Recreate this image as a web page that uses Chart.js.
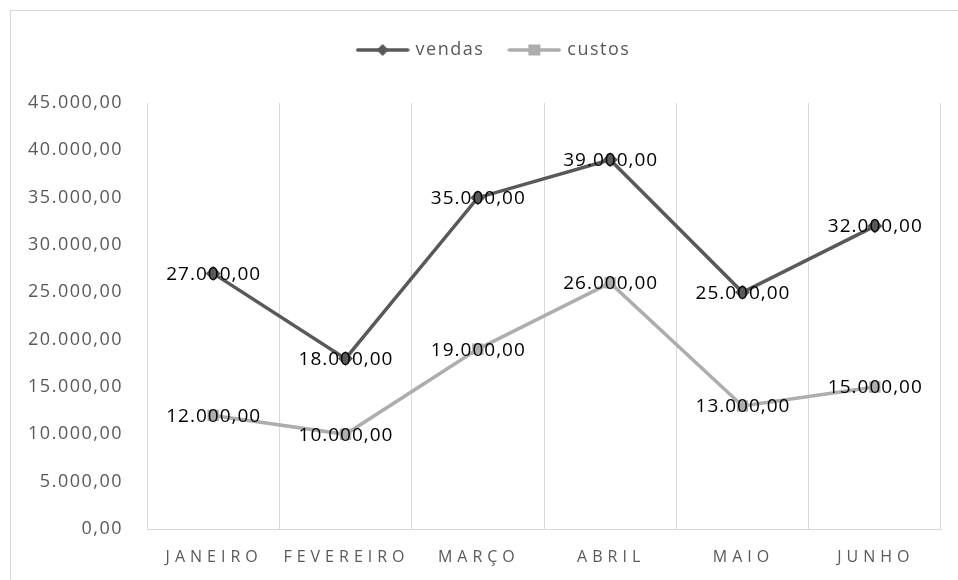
<!DOCTYPE html>
<html lang="pt">
<head>
  <meta charset="UTF-8">
  <title>Vendas e custos</title>
  <script src="https://cdn.jsdelivr.net/npm/chart.js"></script>
  <style>
    html, body { margin: 0; padding: 0; background: #fff; }
    #wrap { width: 958px; height: 580px; }
  </style>
</head>
<body>
  <div id="wrap"><canvas id="chart"></canvas></div>
  <script>
    const meses = ['JANEIRO', 'FEVEREIRO', 'MARÇO', 'ABRIL', 'MAIO', 'JUNHO'];
    const vendas = [27000, 18000, 35000, 39000, 25000, 32000];
    const custos = [12000, 10000, 19000, 26000, 13000, 15000];
    const yMin = 0, yMax = 45000, yStep = 5000;

    const escuro = '#595959';
    const claro = '#ADADAD';
    const fonte = '"Open Sans", "Noto Sans", sans-serif';

    const fmt = (v) => v.toLocaleString('pt-BR', { minimumFractionDigits: 2, maximumFractionDigits: 2 });

    // legend marker: short line with the point in the middle
    function legendIcon(color, shape) {
      const c = document.createElement('canvas');
      c.width = 54; c.height = 14;
      const g = c.getContext('2d');
      g.strokeStyle = color;
      g.lineWidth = 3.5;
      g.lineCap = 'round';
      g.beginPath(); g.moveTo(2, 7); g.lineTo(52, 7); g.stroke();
      g.fillStyle = color;
      if (shape === 'diamond') {
        g.beginPath(); g.moveTo(27, 1); g.lineTo(33, 7); g.lineTo(27, 13); g.lineTo(21, 7); g.closePath(); g.fill();
      } else {
        g.fillRect(21, 1.5, 12, 11);
      }
      return c;
    }

    const ajustes = {
      id: 'ajustes',
      beforeInit(chart) {
        const fit = chart.legend.fit;
        chart.legend.fit = function () {
          fit.bind(chart.legend)();
          this.height += 34;
        };
      },
      beforeUpdate(chart) { chart.ctx.letterSpacing = '1.5px'; },
      afterLayout(chart) {
        // centre the legend on the whole (cropped) chart frame
        chart.legend.left += 19;
        chart.legend.right += 19;
      },
      beforeDraw(chart) {
        const ctx = chart.ctx;
        ctx.letterSpacing = '1.5px';
        ctx.save();
        ctx.strokeStyle = '#D9D9D9';
        ctx.lineWidth = 1;
        ctx.strokeRect(10.5, 10.5, 1000, 1000);
        ctx.restore();
      }
    };

    const rotulos = {
      id: 'rotulos',
      afterDatasetsDraw(chart) {
        const ctx = chart.ctx;
        ctx.save();
        ctx.letterSpacing = '1px';
        ctx.font = '19px ' + fonte;
        ctx.fillStyle = '#000';
        ctx.textAlign = 'center';
        ctx.textBaseline = 'middle';
        chart.data.datasets.forEach((ds, i) => {
          chart.getDatasetMeta(i).data.forEach((pt, j) => {
            ctx.fillText(fmt(ds.data[j]), pt.x + 0.5, pt.y + 1);
          });
        });
        ctx.restore();
      },
      afterDraw(chart) {
        const ctx = chart.ctx;
        const xs = chart.scales.x;
        ctx.save();
        ctx.letterSpacing = '5px';
        ctx.font = '16px ' + fonte;
        ctx.fillStyle = escuro;
        ctx.textAlign = 'center';
        ctx.textBaseline = 'middle';
        meses.forEach((m, i) => {
          ctx.fillText(m, xs.getPixelForValue(i) + 1, 557);
        });
        ctx.restore();
      }
    };

    new Chart(document.getElementById('chart'), {
      type: 'line',
      data: {
        labels: meses,
        datasets: [
          {
            label: 'vendas',
            data: vendas,
            borderColor: escuro,
            backgroundColor: escuro,
            borderWidth: 3.5,
            pointStyle: 'rectRot',
            pointRadius: 7.5,
            pointBorderWidth: 0,
            tension: 0
          },
          {
            label: 'custos',
            data: custos,
            borderColor: claro,
            backgroundColor: claro,
            borderWidth: 3.5,
            pointStyle: 'rect',
            pointRadius: 8,
            pointBorderWidth: 0,
            tension: 0
          }
        ]
      },
      options: {
        responsive: true,
        maintainAspectRatio: false,
        animation: false,
        layout: { padding: { left: 10, right: 17, top: 15, bottom: 0 } },
        plugins: {
          tooltip: { enabled: false },
          legend: {
            position: 'top',
            labels: {
              usePointStyle: true,
              pointStyleWidth: 48,
              padding: 26,
              color: escuro,
              font: { family: fonte, size: 18 },
              generateLabels(chart) {
                return chart.data.datasets.map((ds, i) => ({
                  text: ds.label,
                  fontColor: escuro,
                  pointStyle: legendIcon(ds.borderColor, i === 0 ? 'diamond' : 'rect'),
                  datasetIndex: i,
                  lineWidth: 0,
                  strokeStyle: 'transparent',
                  fillStyle: 'transparent'
                }));
              }
            }
          }
        },
        scales: {
          x: {
            offset: true,
            grid: { display: true, offset: true, color: '#D9D9D9', lineWidth: 1, drawTicks: false },
            border: { display: true, color: '#D9D9D9', width: 1 },
            ticks: { display: false },
            afterFit(scale) { scale.height = 51; }
          },
          y: {
            min: yMin,
            max: yMax,
            grid: { display: false, drawTicks: false },
            border: { display: false },
            ticks: {
              stepSize: yStep,
              padding: 24,
              color: escuro,
              font: { family: fonte, size: 18 },
              callback: (v) => fmt(v)
            },
            afterFit(scale) { scale.width = 137; }
          }
        }
      },
      plugins: [ajustes, rotulos]
    });
  </script>
</body>
</html>
